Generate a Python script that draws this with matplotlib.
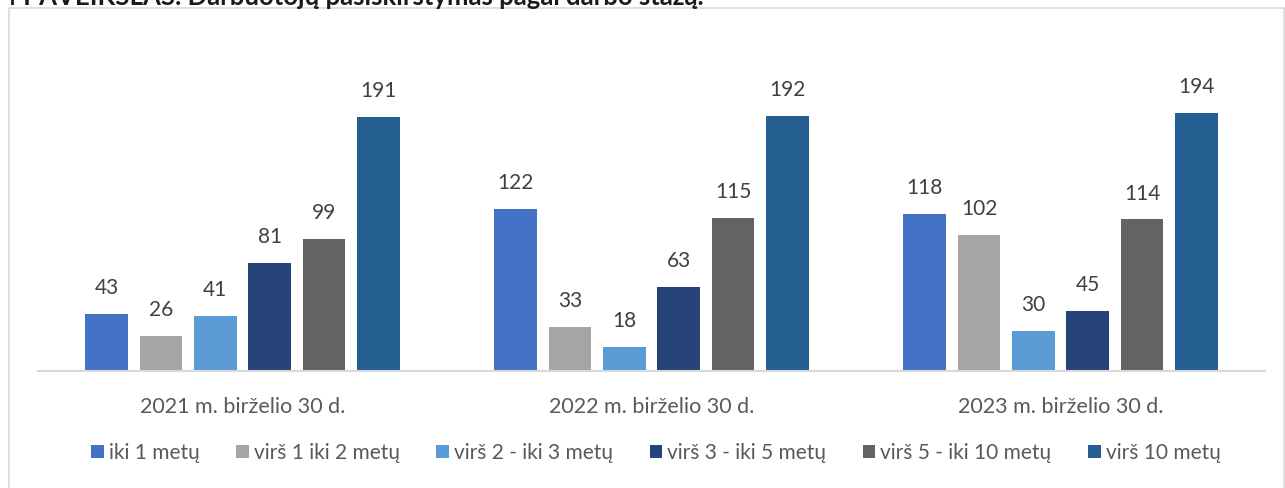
import matplotlib.pyplot as plt
import numpy as np
from matplotlib.patches import Rectangle

plt.rcParams['font.family'] = ['Lato', 'DejaVu Sans']

# data
dates = ['2021 m. birželio 30 d.', '2022 m. birželio 30 d.', '2023 m. birželio 30 d.']
groups = ['iki 1 metų', 'virš 1 iki 2 metų', 'virš 2 - iki 3 metų',
          'virš 3 - iki 5 metų', 'virš 5 - iki 10 metų', 'virš 10 metų']
iki1 = [43, 122, 118]
v1_2 = [26, 33, 102]
v2_3 = [41, 18, 30]
v3_5 = [81, 63, 45]
v5_10 = [99, 115, 114]
v10 = [191, 192, 194]
series = [iki1, v1_2, v2_3, v3_5, v5_10, v10]
colors = ['#4472C4', '#A5A5A5', '#5B9BD5', '#264478', '#636363', '#255E91']

W, H = 1285, 488
fig = plt.figure(figsize=(W/100, H/100), dpi=100)

# border box and (cut off) caption above it
fig.patches.append(Rectangle((8.5/W, -0.1), (1283.5-8.5)/W, 1.1 - 8.5/H,
                             transform=fig.transFigure, fill=False,
                             ec='#D9D9D9', lw=1.2))
fig.text(2/W, 1 - 5/H, '4 PAVEIKSLAS. Darbuotojų pasiskirstymas pagal darbo stažą.',
         fontsize=18.5, fontweight='bold', color='#1a1a1a', va='baseline', ha='left')

ax = fig.add_axes([38/W, (H-370.7)/H, (1265-38)/W, 331.75/H])
ax.set_xlim(-0.5, 2.5)
ax.set_ylim(0, 250)

x = np.arange(len(dates))
step = 0.1328
bw = 0.1044
for i, (vals, c) in enumerate(zip(series, colors)):
    pos = x + (i - 2.5)*step
    ax.bar(pos, vals, width=bw, color=c, label=groups[i], zorder=2)
    for p, v in zip(pos, vals):
        ax.text(p, v + 19.5, str(v), ha='center', va='center',
                fontsize=15, color='#404040')

for s in ['top', 'right', 'left']:
    ax.spines[s].set_visible(False)
ax.spines['bottom'].set_color('#D9D9D9')
ax.spines['bottom'].set_linewidth(1.5)
ax.set_yticks([])
ax.set_xticks(x)
ax.set_xticklabels(dates, fontsize=15.5, color='#595959')
ax.tick_params(axis='x', length=0, pad=19)

leg = fig.legend(loc='center', bbox_to_anchor=(656/W, 1 - 453/H), ncol=6,
                 frameon=False, fontsize=15, handlelength=0.6, handleheight=0.6,
                 handletextpad=0.25, columnspacing=1.75)
for t in leg.get_texts():
    t.set_color('#595959')

fig.savefig('out.png', dpi=100)
